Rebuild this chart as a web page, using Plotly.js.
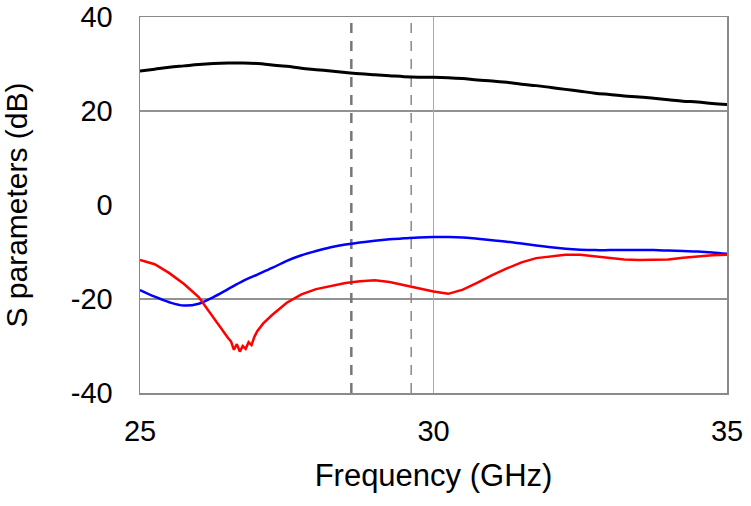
<!DOCTYPE html>
<html>
<head>
<meta charset="utf-8">
<script src="https://cdn.plot.ly/plotly-3.0.1.min.js"></script>
<style>html,body{margin:0;padding:0;background:#fff;}#chart{width:751px;height:506px;}</style>
</head>
<body>
<div id="chart"></div>
<script>
// Frequency grid (GHz) for the smooth traces
var freq = [25,25.25,25.5,25.75,26,26.25,26.5,26.75,27,27.25,27.5,27.75,28,28.25,28.5,28.75,29,29.25,29.5,29.75,30,30.25,30.5,30.75,31,31.25,31.5,31.75,32,32.25,32.5,32.75,33,33.25,33.5,33.75,34,34.25,34.5,34.75,35];
// Black trace (S21, dB)
var s21 = [28.5,28.9,29.3,29.6,29.9,30.1,30.2,30.2,30.1,29.8,29.5,29.1,28.8,28.5,28.2,27.9,27.7,27.5,27.3,27.2,27.2,27.1,26.9,26.6,26.4,26.1,25.7,25.4,25.0,24.6,24.2,23.8,23.5,23.2,23.0,22.7,22.4,22.1,21.9,21.6,21.4];
// Blue trace (dB)
var s11 = [-18.1,-19.5,-20.7,-21.4,-21.0,-19.6,-17.9,-16.2,-14.8,-13.4,-11.9,-10.7,-9.8,-9.0,-8.4,-8.0,-7.6,-7.3,-7.1,-6.9,-6.8,-6.8,-6.9,-7.2,-7.5,-7.8,-8.2,-8.6,-9.0,-9.3,-9.5,-9.6,-9.6,-9.6,-9.6,-9.6,-9.7,-9.8,-9.9,-10.1,-10.4];
// Red trace (dB), finer sampling near the resonance dip
var freqRed = [25,25.25,25.5,25.75,26,26.25,26.4,26.5,26.55,26.6,26.65,26.7,26.75,26.8,26.85,26.9,26.95,27,27.1,27.25,27.5,27.75,28,28.25,28.5,28.75,29,29.25,29.5,29.75,30,30.25,30.5,30.75,31,31.25,31.5,31.75,32,32.25,32.5,32.75,33,33.25,33.5,33.75,34,34.25,34.5,34.75,35];
var s22 = [-11.7,-12.6,-14.5,-16.8,-19.6,-24.0,-26.8,-28.3,-29.0,-30.8,-29.6,-31.2,-30.0,-30.6,-29.2,-29.8,-28.0,-26.8,-25.2,-23.4,-20.8,-19.0,-17.9,-17.2,-16.6,-16.2,-16.0,-16.4,-17.1,-17.8,-18.4,-18.9,-18.0,-16.5,-14.9,-13.5,-12.2,-11.3,-10.9,-10.6,-10.6,-10.9,-11.3,-11.6,-11.7,-11.7,-11.6,-11.2,-10.9,-10.7,-10.6];
// Axis ticks
var xTicks = [25,30,35];
var yTicks = [-40,-20,0,20,40];
// Reference lines
var hGrid = [20,-20];
var solidMarker = 30;
var dashedMarkers = [28.6,29.62];

var traces = [
  {x: freq, y: s21, mode:'lines', line:{color:'#000000', width:3, shape:'spline'}, hoverinfo:'skip'},
  {x: freq, y: s11, mode:'lines', line:{color:'#0000ff', width:2.5, shape:'spline'}, hoverinfo:'skip'},
  {x: freqRed, y: s22, mode:'lines', line:{color:'#ff0000', width:2.5}, hoverinfo:'skip'}
];

var shapes = [];
hGrid.forEach(function(v){
  shapes.push({type:'line', xref:'paper', x0:0, x1:1, yref:'y', y0:v, y1:v, line:{color:'#6e6e6e', width:1.5}, layer:'below'});
});
shapes.push({type:'line', xref:'x', x0:solidMarker, x1:solidMarker, yref:'paper', y0:0, y1:1, line:{color:'#aaaaaa', width:1}, layer:'below'});
shapes.push({type:'line', xref:'x', x0:dashedMarkers[0], x1:dashedMarkers[0], yref:'paper', y0:0, y1:1, line:{color:'#777777', width:2.5, dash:'10px,8px'}, layer:'below'});
shapes.push({type:'line', xref:'x', x0:dashedMarkers[1], x1:dashedMarkers[1], yref:'paper', y0:0, y1:1, line:{color:'#888888', width:1.5, dash:'10px,8px'}, layer:'below'});

var layout = {
  width:751, height:506,
  margin:{l:140, r:24, t:17, b:113},
  paper_bgcolor:'#ffffff', plot_bgcolor:'#ffffff',
  showlegend:false,
  font:{family:'Liberation Sans, Arial, sans-serif', color:'#000'},
  xaxis:{
    range:[25,35], tickvals:xTicks, ticktext:xTicks.map(String),
    showgrid:false, zeroline:false,
    showline:true, mirror:true, linecolor:'#8a8a8a', linewidth:1.5,
    ticks:'outside', ticklen:12, tickcolor:'rgba(0,0,0,0)',
    tickfont:{size:29, color:'#000'},
    title:{text:'Frequency (GHz)', font:{size:31, color:'#000'}, standoff:18}
  },
  yaxis:{
    range:[-40,40], tickvals:yTicks, ticktext:yTicks.map(String),
    showgrid:false, zeroline:false,
    showline:true, mirror:true, linecolor:'#8a8a8a', linewidth:1.5,
    ticks:'outside', ticklen:20, tickcolor:'rgba(0,0,0,0)',
    tickfont:{size:29, color:'#000'},
    title:{text:'S parameters (dB)', font:{size:30, color:'#000'}, standoff:34}
  },
  shapes:shapes
};

Plotly.newPlot('chart', traces, layout, {staticPlot:true, displayModeBar:false});
</script>
</body>
</html>
